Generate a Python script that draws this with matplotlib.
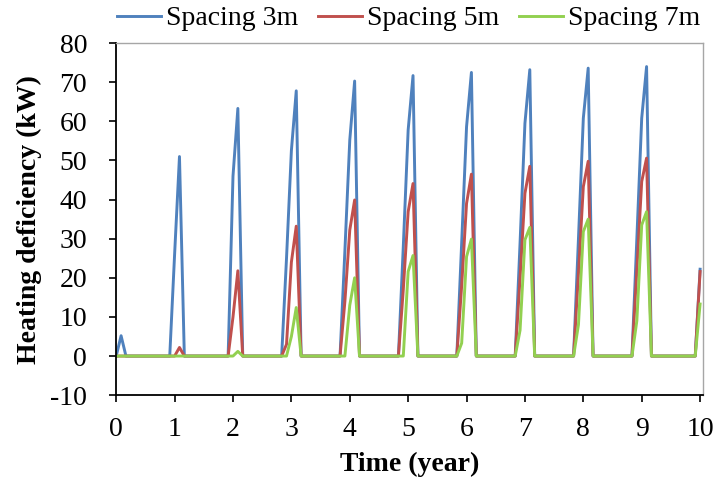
import matplotlib.pyplot as plt
import numpy as np

plt.rcParams['font.family'] = ['Liberation Serif', 'DejaVu Serif']
plt.rcParams['axes.unicode_minus'] = False

# monthly time axis, 0..120 months
months = np.arange(121)
time_years = months / 12.0

# values read per heating season: [month 12k-1, month 12k, month 12k+1]
# (all other months are zero)
years = [1, 2, 3, 4, 5, 6, 7, 8, 9]
blue_peaks = [[0, 26, 51], [0, 46, 63.3], [25, 52.5, 67.8], [27, 55.2, 70.3],
              [28, 57.8, 71.7], [29, 58.6, 72.5], [29, 59.5, 73.2],
              [30, 60.8, 73.6], [30, 60.8, 74.0]]
red_peaks = [[0, 0, 2.2], [0, 10, 21.8], [3, 24, 33.2], [14, 32.2, 39.9],
             [17, 36.9, 44.1], [18, 39.0, 46.5], [20, 41.6, 48.5],
             [21, 43.3, 49.8], [22, 44.6, 50.6]]
green_peaks = [[0, 0, 0], [0, 0, 1.2], [0, 5, 12.4], [0, 13, 20.0],
               [0, 21.6, 25.7], [3.3, 25.4, 29.9], [6.6, 29.7, 32.9],
               [8, 31.8, 35.0], [9, 33.5, 36.9]]
first_month = [5.2, 0, 0]   # month 1 value (blue, red, green)
last_month = [22.2, 21.6, 13.3]  # month 120 value


def build(peaks, m1, m120):
    s = np.zeros(len(months))
    s[1] = m1
    for y, vals in zip(years, peaks):
        s[12 * y - 1:12 * y + 2] = vals
    s[120] = m120
    return s


spacing_3 = build(blue_peaks, first_month[0], last_month[0])
spacing_5 = build(red_peaks, first_month[1], last_month[1])
spacing_7 = build(green_peaks, first_month[2], last_month[2])

fig = plt.figure(figsize=(7.13, 4.79), dpi=100)
ax = fig.add_axes([0.163, 0.175, 0.823, 0.735])

ax.plot(time_years, spacing_3, color='#4F81BD', lw=2.1, label='Spacing 3m')
ax.plot(time_years, spacing_5, color='#C0504D', lw=2.1, label='Spacing 5m')
ax.plot(time_years, spacing_7, color='#92D050', lw=2.1, label='Spacing 7m')

ax.set_xlim(0, 10.05)
ax.set_ylim(-10, 80)
ax.set_xticks(range(0, 11))
ax.set_yticks(range(-10, 81, 10))
ax.tick_params(labelsize=20, direction='out', length=5, width=1.2, colors='black')
ax.tick_params(axis='y', pad=16)
ax.tick_params(axis='x', pad=11)

for s in ['top', 'right']:
    ax.spines[s].set_color('#a6a6a6')
    ax.spines[s].set_linewidth(1.0)
for s in ['left', 'bottom']:
    ax.spines[s].set_color('black')
    ax.spines[s].set_linewidth(1.3)

ax.set_xlabel('Time (year)', fontsize=20, fontweight='bold', labelpad=7)
ax.set_ylabel('Heating deficiency (kW)', fontsize=20, fontweight='bold', labelpad=6)

fig.legend(loc='upper center', bbox_to_anchor=(0.573, 1.04), ncol=3, frameon=False,
           fontsize=20, handlelength=1.6, handletextpad=0.18, columnspacing=0.7)

fig.savefig('out.png', dpi=100)
